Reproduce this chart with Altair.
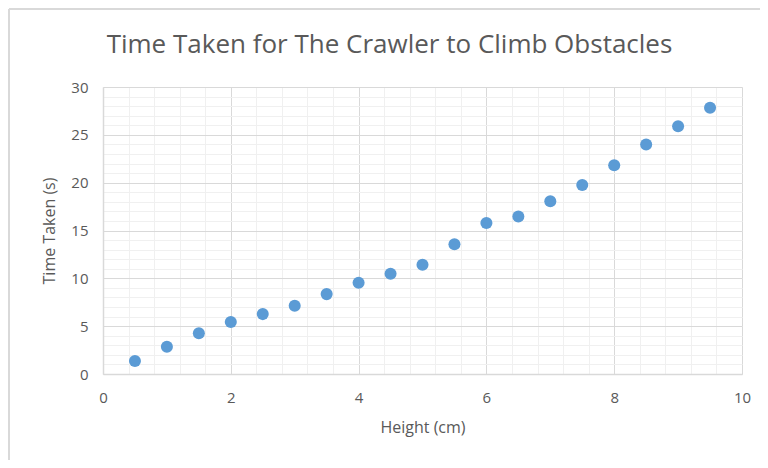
import altair as alt
import pandas as pd

heights = [0.5, 1.0, 1.5, 2.0, 2.5, 3.0, 3.5, 4.0, 4.5, 5.0,
           5.5, 6.0, 6.5, 7.0, 7.5, 8.0, 8.5, 9.0, 9.5]
times = [1.36, 2.85, 4.25, 5.43, 6.26, 7.13, 8.35, 9.53, 10.47, 11.41,
         13.57, 15.79, 16.46, 18.06, 19.76, 21.82, 23.98, 25.89, 27.84]

x_major = [0, 2, 4, 6, 8, 10]
x_minor = [0, 0.4, 0.8, 1.2, 1.6, 2, 2.4, 2.8, 3.2, 3.6, 4, 4.4, 4.8, 5.2, 5.6,
           6, 6.4, 6.8, 7.2, 7.6, 8, 8.4, 8.8, 9.2, 9.6, 10]
y_major = [0, 5, 10, 15, 20, 25, 30]
y_minor = list(range(0, 31))

title_text = "Time Taken for The Crawler to Climb Obstacles"

W, H = 639, 287
PAD = {"left": 95, "top": 79, "right": 18, "bottom": 86}

df = pd.DataFrame({"Height (cm)": heights, "Time Taken (s)": times})

xs = alt.Scale(domain=[0, 10], nice=False, zero=False)
ys = alt.Scale(domain=[0, 30], nice=False, zero=False)
FONT = "Open Sans"
GREY = "#595959"

minor = alt.Chart(df).mark_point(opacity=0).encode(
    x=alt.X("Height (cm):Q", scale=xs,
            axis=alt.Axis(values=x_minor, grid=True, gridColor="#f0f0f0", gridWidth=1,
                          labels=False, ticks=False, domain=False, title=None, orient="bottom")),
    y=alt.Y("Time Taken (s):Q", scale=ys,
            axis=alt.Axis(values=y_minor, grid=True, gridColor="#f0f0f0", gridWidth=1,
                          labels=False, ticks=False, domain=False, title=None, orient="left")),
)

points = alt.Chart(df).mark_circle(size=145, color="#5b9bd5", opacity=1).encode(
    x=alt.X("Height (cm):Q", scale=xs,
            axis=alt.Axis(values=x_major, grid=True, gridColor="#d9d9d9", gridWidth=1,
                          ticks=False, domain=True, domainColor="#d9d9d9", domainWidth=1.5,
                          labelFont=FONT, labelFontSize=15, labelColor=GREY, labelPadding=16,
                          labelFlush=False, labelOverlap=False,
                          title="Height (cm)", titleFont=FONT, titleFontSize=16,
                          titleFontWeight="normal", titleColor=GREY, titlePadding=14,
                          orient="bottom")),
    y=alt.Y("Time Taken (s):Q", scale=ys,
            axis=alt.Axis(values=y_major, grid=True, gridColor="#d9d9d9", gridWidth=1,
                          ticks=False, domain=True, domainColor="#d9d9d9", domainWidth=1.5,
                          labelFont=FONT, labelFontSize=15, labelColor=GREY, labelPadding=15,
                          labelFlush=False, labelOverlap=False,
                          title="Time Taken (s)", titleFont=FONT, titleFontSize=16,
                          titleFontWeight="normal", titleColor=GREY, titlePadding=13,
                          orient="left")),
)

frame_df = pd.DataFrame({"k": [0]})
left_border = alt.Chart(frame_df).mark_rule(color="#d9d9d9", strokeWidth=2).encode(
    x=alt.value(-PAD["left"] + 1), y=alt.value(-PAD["top"] + 1),
    y2=alt.value(H + PAD["bottom"]))
top_border = alt.Chart(frame_df).mark_rule(color="#d9d9d9", strokeWidth=2).encode(
    x=alt.value(-PAD["left"] + 1), x2=alt.value(W + PAD["right"]),
    y=alt.value(-PAD["top"] + 1))

title_df = pd.DataFrame({"t": [title_text]})
title = alt.Chart(title_df).mark_text(
    font=FONT, fontSize=26, color=GREY, align="center", baseline="alphabetic"
).encode(text="t:N", x=alt.value(W / 2 - 33), y=alt.value(-34))

chart = alt.layer(minor, points, left_border, top_border, title).resolve_axis(
    x="independent", y="independent"
).properties(
    width=W, height=H,
    autosize=alt.AutoSizeParams(type="none"),
    padding=PAD,
).configure_view(stroke="#d9d9d9", strokeWidth=1)

chart.save("out.html", embed_options={"renderer": "svg", "actions": False})
